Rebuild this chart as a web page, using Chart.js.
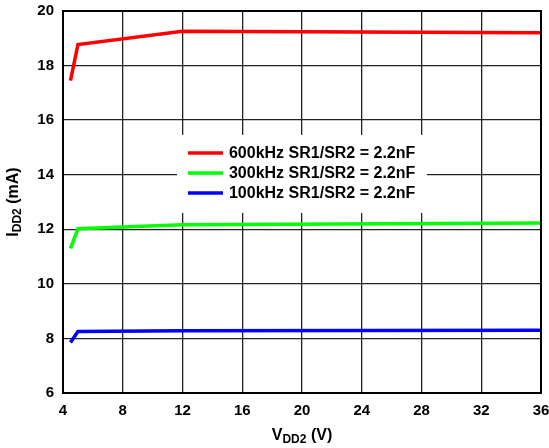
<!DOCTYPE html>
<html>
<head>
<meta charset="utf-8">
<script src="https://cdn.jsdelivr.net/npm/chart.js@4.4.0/dist/chart.umd.min.js"></script>
<style>
  html, body { margin: 0; padding: 0; background: #fff; }
  #wrap { width: 549px; height: 448px; }
</style>
</head>
<body>
<div id="wrap"><canvas id="c" width="549" height="448"></canvas></div>
<script>
// supply voltage (V)
const vdd = [4.5, 5, 12, 36]

// supply current (mA) per switching frequency
const i600k = [17.45, 18.77, 19.26, 19.2]
const i300k = [11.3, 12.02, 12.17, 12.23]
const i100k = [7.85, 8.25, 8.28, 8.3]

const seriesNames = [
  "600kHz SR1/SR2 = 2.2nF",
  "300kHz SR1/SR2 = 2.2nF",
  "100kHz SR1/SR2 = 2.2nF"
]

const xTicks = [4, 8, 12, 16, 20, 24, 28, 32, 36]
const yTicks = [6, 8, 10, 12, 14, 16, 18, 20]

const FONT = "'Liberation Sans', Arial, sans-serif"

function toPoints(xs, ys) {
  return xs.map(function(x, i) {
    return { x: x, y: ys[i] }
  })
}

function makeSet(label, values, color) {
  return {
    label: label,
    data: toPoints(vdd, values),
    borderColor: color,
    backgroundColor: color,
    borderWidth: 3.5,
    pointRadius: 0,
    tension: 0,
    fill: false
  }
}

// draws text with a lowered, smaller part, e.g. V + DD2
function subText(ctx, x, y, main, sub, tail) {
  ctx.font = "bold 16px " + FONT
  const w1 = ctx.measureText(main).width
  ctx.font = "bold 12px " + FONT
  const w2 = ctx.measureText(sub).width
  ctx.font = "bold 16px " + FONT
  const w3 = ctx.measureText(tail).width
  let start = x - (w1 + w2 + w3) / 2
  ctx.textBaseline = "middle"
  ctx.textAlign = "left"
  ctx.fillText(main, start, y)
  ctx.font = "bold 12px " + FONT
  ctx.fillText(sub, start + w1, y + 4)
  ctx.font = "bold 16px " + FONT
  ctx.fillText(tail, start + w1 + w2, y)
}

const decor = {
  id: "decor",
  afterDatasetsDraw(chart) {
    const ctx = chart.ctx
    const a = chart.chartArea
    ctx.save()

    // frame
    ctx.strokeStyle = "#000"
    ctx.lineWidth = 2
    ctx.strokeRect(a.left, a.top, a.right - a.left, a.bottom - a.top)

    // legend box inside the plot
    const x = chart.scales.x, y = chart.scales.y
    const bx = x.getPixelForValue(11.63), by = y.getPixelForValue(15.46)
    const bw = x.getPixelForValue(28.36) - bx, bh = y.getPixelForValue(12.6) - by
    ctx.fillStyle = "#fff"
    ctx.fillRect(bx, by, bw, bh)
    chart.data.datasets.forEach(function(ds, i) {
      const ry = by + 18 + i * 20
      ctx.strokeStyle = ds.borderColor
      ctx.lineWidth = 3.5
      ctx.beginPath()
      ctx.moveTo(bx + 11, ry)
      ctx.lineTo(bx + 46, ry)
      ctx.stroke()
      ctx.fillStyle = "#000"
      ctx.font = "bold 16px " + FONT
      ctx.textAlign = "left"
      ctx.textBaseline = "middle"
      ctx.fillText(ds.label, bx + 52, ry + 1)
    })

    // axis titles
    ctx.fillStyle = "#000"
    subText(ctx, (a.left + a.right) / 2, 436, "V", "DD2", " (V)")
    ctx.translate(14, (a.top + a.bottom) / 2)
    ctx.rotate(-Math.PI / 2)
    subText(ctx, 0, 0, "I", "DD2", " (mA)")
    ctx.restore()
  }
}

const ctx = document.getElementById("c").getContext("2d")
const chart = new Chart(ctx, {
  type: "line",
  data: {
    datasets: [
      makeSet(seriesNames[0], i600k, "#ff0000"),
      makeSet(seriesNames[1], i300k, "#00ff00"),
      makeSet(seriesNames[2], i100k, "#0000ff")
    ]
  },
  options: {
    responsive: false,
    animation: false,
    layout: { padding: { top: 11, right: 8, left: 0, bottom: 0 } },
    plugins: {
      legend: { display: false },
      tooltip: { enabled: false }
    },
    scales: {
      x: {
        type: "linear",
        min: 4,
        max: 36,
        afterBuildTicks: function(scale) {
          scale.ticks = xTicks.map(function(v) { return { value: v } })
        },
        afterFit: function(scale) {
          scale.height = 55
          scale.paddingLeft = 0
          scale.paddingRight = 0
        },
        grid: { color: "#222", lineWidth: 1.3, drawTicks: false },
        border: { display: false },
        ticks: {
          padding: 9,
          color: "#000",
          font: { family: FONT, size: 15, weight: "bold" }
        }
      },
      y: {
        min: 6,
        max: 20,
        afterBuildTicks: function(scale) {
          scale.ticks = yTicks.map(function(v) { return { value: v } })
        },
        afterFit: function(scale) {
          scale.width = 63
          scale.paddingTop = 0
          scale.paddingBottom = 0
        },
        grid: { color: "#222", lineWidth: 1.3, drawTicks: false },
        border: { display: false },
        ticks: {
          padding: 9,
          color: "#000",
          font: { family: FONT, size: 15, weight: "bold" }
        }
      }
    }
  },
  plugins: [decor]
})
</script>
</body>
</html>
